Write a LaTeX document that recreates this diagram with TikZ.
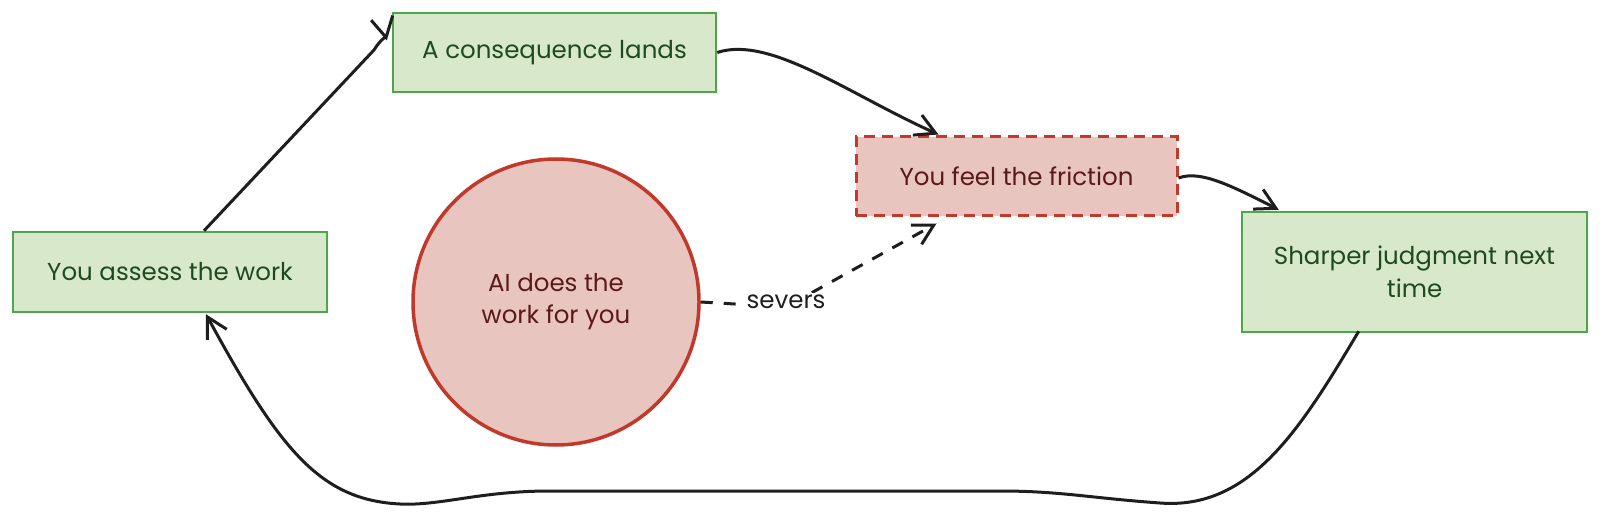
\documentclass[tikz,border=0pt]{standalone}
\usepackage{fontspec}
\setmainfont{Poppins}
\usetikzlibrary{arrows.meta,calc}
\definecolor{gfill}{HTML}{D8E8CB}
\definecolor{gline}{HTML}{4CA64C}
\definecolor{gtext}{HTML}{1F4A1F}
\definecolor{rfill}{HTML}{E8C5BF}
\definecolor{rline}{HTML}{C0392B}
\definecolor{rtext}{HTML}{5A1A1A}
\definecolor{ink}{HTML}{1E1E1E}
\tikzset{
  gbox/.style={draw=gline, fill=gfill, line width=2.5pt, text=gtext, inner sep=0pt, align=center, font=\fontsize{24.5}{33}\selectfont},
  rbox/.style={draw=rline, fill=rfill, line width=3pt, dash pattern=on 11pt off 7pt, text=rtext, inner sep=0pt, align=center, font=\fontsize{24.5}{33}\selectfont},
  rcirc/.style={circle, draw=rline, fill=rfill, line width=3.5pt, text=rtext, inner sep=0pt, align=center, font=\fontsize{24.5}{32}\selectfont},
  flow/.style={draw=ink, line width=3pt, -{Straight Barb[length=20pt,width=22pt]}},
  dflow/.style={draw=ink, line width=3pt, dash pattern=on 12pt off 11pt, -{Straight Barb[length=20pt,width=22pt]}},
  lbl/.style={fill=white, text=ink, inner sep=2pt, font=\fontsize{24.5}{26}\selectfont}
}
\begin{document}
\begin{tikzpicture}[x=1pt,y=-1pt]
\useasboundingbox (0,0) rectangle (1600,518);
\node[gbox, minimum width=323pt, minimum height=79pt] (cons) at (554.5,52.5) {A consequence lands};
\node[gbox, minimum width=314pt, minimum height=80pt] (assess) at (170,272) {You assess the work};
\node[rbox, minimum width=321pt, minimum height=79pt] (fric) at (1016.5,176.5) {You feel the friction};
\node[gbox, minimum width=345pt, minimum height=120pt] (sharp) at (1414.5,272) {Sharper judgment next\\time};
\node[rcirc, minimum size=286pt] (ai) at (556,302) {AI does the\\work for you};
% connectors
\draw[flow] ($(assess.north)+(34,0)$) -- (374,50) .. controls (380,40) and (386,37) .. ($(cons.west)+(-5,-12)$);
\draw[flow] (cons.east) .. controls (770,35) and (850,95) .. ($(fric.north west)+(84,-1)$);
\draw[flow] ($(fric.east)+(0,1.5)$) .. controls (1200,170) and (1230,185) .. ($(sharp.north west)+(38,-1)$);
\draw[flow] ($(sharp.south west)+(118,-2)$) .. controls (1300,430) and (1250,510) .. (1160,503) .. controls (1090,498) and (1060,491) .. (1000,491) -- (550,491) .. controls (480,491) and (440,506) .. (400,504) .. controls (320,500) and (280,450) .. ($(assess.south)+(36,1)$);
\coordinate (bend) at (786,307);
\draw[dflow] (ai.east) -- (bend) -- ($(fric.south west)+(82,6)$);
\node[lbl] (sev) at (786,302) {severs};
\end{tikzpicture}
\end{document}
